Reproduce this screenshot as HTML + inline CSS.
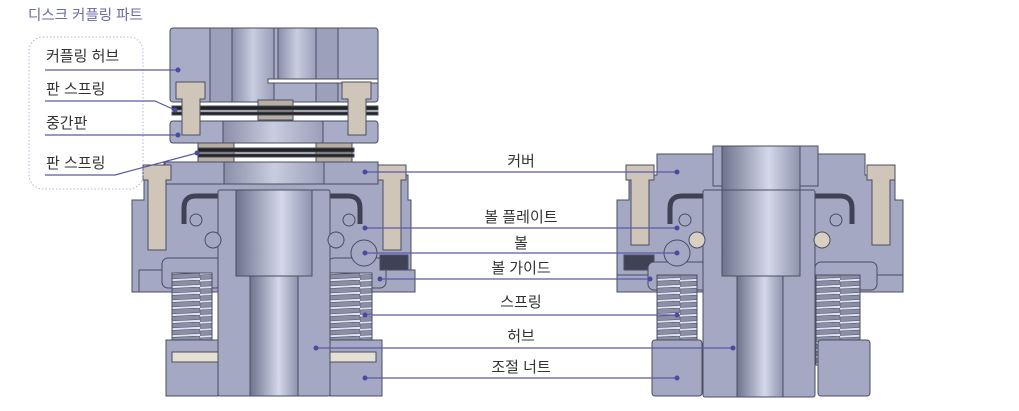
<!DOCTYPE html>
<html><head><meta charset="utf-8"><style>
html,body{margin:0;padding:0;background:#fff;}
svg{display:block}
text{font-family:"Liberation Sans","Noto Sans CJK KR",sans-serif;}
</style></head><body>
<svg width="1019" height="411" viewBox="0 0 1019 411" xmlns="http://www.w3.org/2000/svg">
<defs>
<linearGradient id="g1" x1="0" x2="1"><stop offset="0" stop-color="#8a8ea8"/><stop offset="0.5" stop-color="#c9cde0"/><stop offset="1" stop-color="#9a9eb8"/></linearGradient>
<linearGradient id="g2" x1="0" x2="1"><stop offset="0" stop-color="#6e728c"/><stop offset="0.6" stop-color="#d4d8ea"/><stop offset="1" stop-color="#8e92ac"/></linearGradient>
<pattern id="spr" width="40" height="7" patternUnits="userSpaceOnUse">
<rect width="40" height="7" fill="#dfe2ec"/>
<path d="M0 2 L40 0 L40 4.5 L0 6.5Z" fill="#8a8ea8" stroke="#4a4e60" stroke-width="0.6"/>
</pattern>
</defs>
<g stroke="#4a4e60" stroke-width="1">
<!-- LEFT ASSEMBLY -->
<rect x="170" y="28" width="208" height="74" rx="3" fill="#a8acc6"/>
<rect x="210" y="28" width="22" height="74" fill="#9ca0ba"/>
<rect x="232" y="28" width="42" height="74" fill="url(#g1)"/>
<rect x="278" y="28" width="38" height="52" fill="url(#g1)"/>
<rect x="316" y="28" width="22" height="74" fill="#9ca0ba"/>
<rect x="268" y="79" width="110" height="4" fill="#fff"/>
<rect x="258" y="100" width="35" height="20" fill="#b8aea2"/>
<rect x="172" y="106" width="206" height="4" fill="#222"/>
<rect x="172" y="112" width="206" height="3" fill="#222"/>
<rect x="170" y="121" width="208" height="22" rx="3" fill="#a8acc6"/>
<rect x="223" y="121" width="100" height="22" fill="url(#g1)"/>
<rect x="198" y="143" width="36" height="20" fill="#b8aea2"/>
<rect x="316" y="143" width="36" height="20" fill="#b8aea2"/>
<rect x="198" y="148" width="156" height="4" fill="#222"/>
<rect x="198" y="154" width="156" height="3" fill="#222"/>
<path d="M176 82 h29 v17 h-5 v36 h-18 v-36 h-6z" fill="#cfc5b8"/>
<path d="M342 82 h29 v17 h-5 v36 h-18 v-36 h-6z" fill="#cfc5b8"/>
<path d="M132 200 h12 v-25 h20 v-13 h214 v13 h30 v25 h3 v70 h4 v22 h-283 v-22 h0z" fill="#a4a8c2"/>
<rect x="165" y="162" width="213" height="22" fill="#a4a8c2"/>
<rect x="224" y="162" width="100" height="22" fill="url(#g1)"/>
<path d="M184 224 v-16 q0-12 12-12 h152 q12 0 12 12 v16" fill="none" stroke="#3e4254" stroke-width="5"/>
<rect x="139" y="270" width="276" height="22" fill="#a4a8c2"/>
<rect x="162" y="258" width="60" height="30" rx="6" fill="#a4a8c2"/>
<rect x="328" y="258" width="58" height="30" rx="6" fill="#a4a8c2"/>
<rect x="380" y="255" width="28" height="15" fill="#3e4254"/>
<path d="M143 165 h28 v15 h-5 v70 h-18 v-70 h-5z" fill="#cfc5b8"/>
<path d="M378 165 h28 v15 h-5 v70 h-18 v-70 h-5z" fill="#cfc5b8"/>
<rect x="172" y="273" width="40" height="90" fill="url(#spr)"/>
<rect x="330" y="273" width="42" height="90" fill="url(#spr)"/>
<path d="M166 340 h52 v56 h-52z" fill="#a4a8c2"/>
<path d="M330 340 h52 v56 h-52z" fill="#a4a8c2"/>
<rect x="172" y="352" width="46" height="10" fill="#e6e0d4"/>
<rect x="330" y="352" width="46" height="10" fill="#e6e0d4"/>
<rect x="218" y="190" width="112" height="206" rx="2" fill="#a4a8c2"/>
<rect x="236" y="190" width="76" height="86" fill="url(#g2)"/>
<rect x="250" y="276" width="48" height="120" fill="url(#g2)"/>
<circle cx="196" cy="220" r="6" fill="#a4a8c2"/><circle cx="349" cy="220" r="6" fill="#a4a8c2"/>
<circle cx="213" cy="240" r="8" fill="#a4a8c2"/><circle cx="336" cy="240" r="8" fill="#a4a8c2"/>
<circle cx="364" cy="253" r="13" fill="#a4a8c2"/>

<!-- RIGHT ASSEMBLY -->
<path d="M617 200 h12 v-25 h28 v-21 h58 v-8 h103 v8 h47 v21 h30 v25 h8 v75 h-286z" fill="#a4a8c2"/>
<path d="M670 224 v-16 q0-12 12-12 h158 q12 0 12 12 v16" fill="none" stroke="#3e4254" stroke-width="5"/>
<rect x="624" y="255" width="30" height="15" fill="#3e4254"/>
<rect x="617" y="275" width="286" height="17" fill="#a4a8c2"/>
<rect x="648" y="262" width="62" height="28" rx="6" fill="#a4a8c2"/>
<rect x="815" y="262" width="62" height="28" rx="6" fill="#a4a8c2"/>
<path d="M626 165 h28 v15 h-5 v65 h-18 v-65 h-5z" fill="#cfc5b8"/>
<path d="M867 165 h28 v15 h-5 v65 h-18 v-65 h-5z" fill="#cfc5b8"/>
<rect x="657" y="275" width="40" height="90" fill="url(#spr)"/>
<rect x="816" y="275" width="44" height="90" fill="url(#spr)"/>
<rect x="652" y="340" width="50" height="56" rx="3" fill="#a4a8c2"/>
<rect x="818" y="340" width="52" height="56" rx="3" fill="#a4a8c2"/>
<rect x="713" y="146" width="105" height="40" fill="#a4a8c2"/>
<rect x="722" y="146" width="78" height="45" fill="url(#g2)"/>
<rect x="703" y="190" width="112" height="207" rx="2" fill="#a4a8c2"/>
<rect x="722" y="190" width="78" height="86" fill="url(#g2)"/>
<rect x="737" y="276" width="46" height="121" fill="url(#g2)"/>
<circle cx="685" cy="220" r="6" fill="#a4a8c2"/><circle cx="836" cy="220" r="6" fill="#a4a8c2"/>
<circle cx="697" cy="240" r="8" fill="#d8d0c2"/><circle cx="822" cy="240" r="8" fill="#d8d0c2"/>
<circle cx="677" cy="253" r="13" fill="#a4a8c2"/>
</g>

<text x="28" y="20" font-size="14.5" fill="#6a6aaa">디스크 커플링 파트</text>
<rect x="29" y="37" width="114" height="152" rx="14" fill="none" stroke="#b4b4d8" stroke-dasharray="1.5 2"/>
<g font-size="15" fill="#333">
<text x="46" y="61">커플링 허브</text>
<text x="46" y="94">판 스프링</text>
<text x="46" y="128">중간판</text>
<text x="46" y="168">판 스프링</text>
</g>
<g stroke="#5a5aa8" stroke-width="1.2" fill="none">
<path d="M45 70 H178"/>
<path d="M45 101 H155 L175 110"/>
<path d="M45 135 H178"/>
<path d="M45 175 H115 L197 153"/>
<path d="M365 172 H677"/>
<path d="M365 228 H677"/>
<path d="M365 253 H677"/>
<path d="M380 279 H650"/>
<path d="M365 315 H677"/>
<path d="M316 348 H733"/>
<path d="M365 378 H677"/>
</g>
<g fill="#4a4aa0">
<circle cx="178" cy="70" r="2.5"/><circle cx="175" cy="110" r="2.5"/><circle cx="178" cy="135" r="2.5"/><circle cx="197" cy="153" r="2.5"/>
<circle cx="365" cy="172" r="2.5"/><circle cx="677" cy="172" r="2.5"/>
<circle cx="365" cy="228" r="2.5"/><circle cx="677" cy="228" r="2.5"/>
<circle cx="365" cy="253" r="2.5"/><circle cx="677" cy="253" r="2.5"/>
<circle cx="380" cy="279" r="2.5"/><circle cx="650" cy="279" r="2.5"/>
<circle cx="365" cy="315" r="2.5"/><circle cx="677" cy="315" r="2.5"/>
<circle cx="316" cy="348" r="2.5"/><circle cx="733" cy="348" r="2.5"/>
<circle cx="365" cy="378" r="2.5"/><circle cx="677" cy="378" r="2.5"/>
</g>
<g font-size="15" fill="#333" text-anchor="middle">
<text x="521" y="166">커버</text>
<text x="521" y="222">볼 플레이트</text>
<text x="521" y="248">볼</text>
<text x="521" y="273">볼 가이드</text>
<text x="521" y="307">스프링</text>
<text x="521" y="341">허브</text>
<text x="521" y="372">조절 너트</text>
</g>
</svg>
</body></html>
